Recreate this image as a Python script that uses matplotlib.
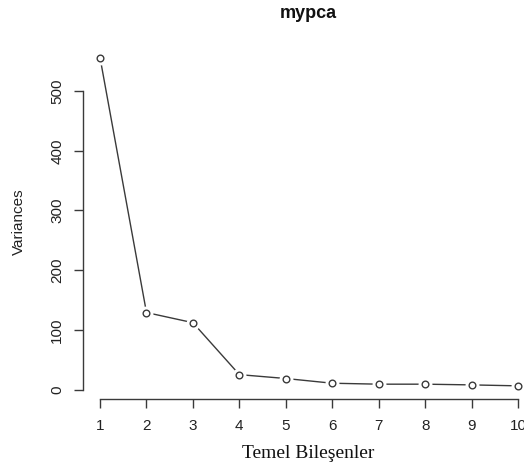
import matplotlib.pyplot as plt

# screeplot values
components = [1, 2, 3, 4, 5, 6, 7, 8, 9, 10]
variances = [556, 129, 112, 25, 18.5, 10.6, 9, 9, 7.8, 6.2]
yticks = [0, 100, 200, 300, 400, 500]

col = "#3a3a3a"

fig = plt.figure(figsize=(5.24, 4.76), dpi=100)
# plot region runs past the right edge, like the cropped original
ax = fig.add_axes([0.159, 0.1618, 0.8615, 0.7447])

ax.plot(components, variances, color=col, lw=1.0, zorder=1)
# white halo gives the gap round each point (R type="b")
ax.plot(components, variances, "o", ms=9, mfc="white", mec="white", zorder=2)
ax.plot(components, variances, "o", ms=4.8, mfc="white", mec=col, mew=1.0, zorder=3)

ax.set_xlim(0.64, 10.36)
ax.set_ylim(-15.8, 578)

for s in ["top", "right"]:
    ax.spines[s].set_visible(False)
ax.spines["left"].set_bounds(0, 500)
ax.spines["bottom"].set_bounds(1, 10)
for s in ["left", "bottom"]:
    ax.spines[s].set_color(col)
    ax.spines[s].set_linewidth(1.0)

ax.set_xticks(components)
ax.set_yticks(yticks)
ax.set_yticklabels([str(v) for v in yticks], rotation=90, va="center")
ax.tick_params(axis="both", direction="out", length=6.2, width=1.0, color=col,
               labelsize=11, labelcolor="#222222")
ax.tick_params(axis="y", pad=7.5)
ax.tick_params(axis="x", pad=8.5)
for lab in ax.get_xticklabels() + ax.get_yticklabels():
    lab.set_family("Liberation Sans")

fig.text(0.589, 0.972, "mypca", ha="center", va="center", fontsize=13,
         fontweight="bold", family="Liberation Sans", color="#111111")
fig.text(0.036, 0.535, "Variances", rotation=90, ha="center", va="center",
         fontsize=11, family="Liberation Sans", color="#222222")
fig.text(0.589, 0.048, "Temel Bileşenler", ha="center", va="center",
         fontsize=14, family="Liberation Serif", color="#111111")

fig.savefig("out.png", dpi=100)
